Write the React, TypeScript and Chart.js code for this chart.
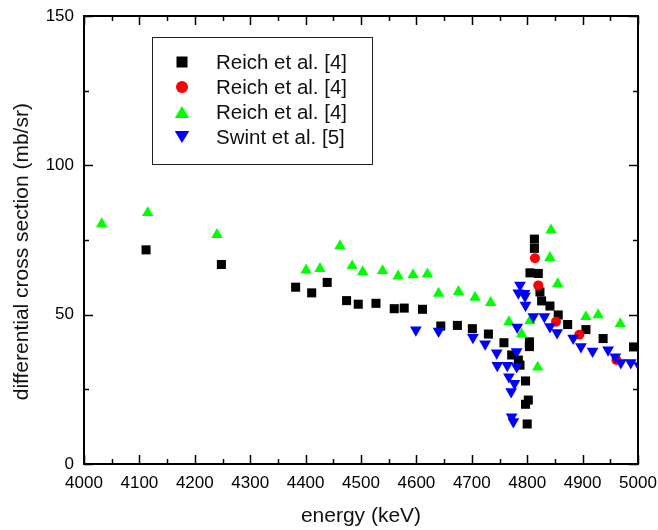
import React, { useEffect, useRef } from "react";
import { Chart, registerables } from "chart.js";

Chart.register(...registerables);

// ---- data ----
const reichSquareE = [4112, 4248, 4382, 4411, 4439, 4474, 4495, 4527, 4560, 4578, 4611, 4644, 4674, 4701, 4730, 4758, 4772, 4784, 4787, 4797, 4802, 4797, 4800, 4804, 4804, 4805, 4813, 4813, 4820, 4823, 4826, 4841, 4856, 4873, 4906, 4937, 4992];
const reichSquareV = [71.7, 66.8, 59.2, 57.3, 60.8, 54.7, 53.5, 53.8, 52.0, 52.2, 51.8, 46.2, 46.4, 45.3, 43.5, 40.6, 36.5, 34.8, 33.1, 27.8, 21.4, 20.0, 13.4, 40.9, 39.3, 64.0, 75.3, 72.2, 63.8, 57.6, 54.6, 52.9, 49.9, 46.7, 45.0, 42.0, 39.2];

const reichCircleE = [4814, 4820, 4852, 4894, 4961];
const reichCircleV = [68.9, 59.8, 47.6, 43.3, 34.8];

const reichTriE = [4032, 4115, 4240, 4401, 4426, 4462, 4484, 4503, 4539, 4567, 4594, 4620, 4640, 4676, 4706, 4734, 4767, 4790, 4805, 4819, 4841, 4843, 4855, 4906, 4928, 4968];
const reichTriV = [80.4, 84.1, 76.8, 64.9, 65.4, 73.0, 66.3, 64.3, 64.7, 62.9, 63.3, 63.6, 57.1, 57.7, 55.8, 54.0, 47.6, 43.5, 47.9, 32.4, 69.1, 78.3, 60.3, 49.3, 49.9, 46.9];

const swintE = [4599, 4640, 4702, 4724, 4745, 4746, 4764, 4767, 4771, 4772, 4775, 4777, 4781, 4781, 4782, 4784, 4787, 4795, 4796, 4797, 4811, 4831, 4841, 4854, 4883, 4897, 4918, 4946, 4959, 4969, 4987, 5002];
const swintV = [44.9, 44.5, 42.4, 40.2, 37.2, 33.0, 33.0, 29.2, 24.2, 15.8, 14.2, 27.0, 32.6, 37.6, 45.8, 57.3, 59.9, 57.1, 56.2, 53.2, 49.3, 49.3, 46.0, 44.0, 42.1, 39.3, 37.8, 38.2, 35.9, 33.9, 33.9, 32.9];

const seriesLabels = ["Reich et al. [4]", "Reich et al. [4]", "Reich et al. [4]", "Swint et al. [5]"];

const xMajorTicks = [4000, 4100, 4200, 4300, 4400, 4500, 4600, 4700, 4800, 4900, 5000];
const xMinorTicks = [4050, 4150, 4250, 4350, 4450, 4550, 4650, 4750, 4850, 4950];
const yMajorTicks = [0, 50, 100, 150];
const yMinorTicks = [25, 75, 125];

const xTitle = "energy (keV)";
const yTitle = "differential cross section (mb/sr)";

const FONT = "'Liberation Sans', Arial, Helvetica, sans-serif";

const toPts = (xs: number[], ys: number[]) => xs.map((x, i) => ({ x, y: ys[i] }));

const framePlugin = {
  id: "frameTicks",
  afterDatasetsDraw(chart: any) {
    const { ctx, chartArea, scales } = chart;
    const { left, right, top, bottom } = chartArea;
    const xs = scales.x;
    const ys = scales.y;
    ctx.save();
    ctx.strokeStyle = "#000";
    ctx.lineWidth = 1.5;
    ctx.beginPath();
    const major = 9;
    const minor = 5;
    xMajorTicks.forEach((v) => {
      const p = Math.round(xs.getPixelForValue(v)) + 0.5;
      ctx.moveTo(p, bottom); ctx.lineTo(p, bottom - major);
      ctx.moveTo(p, top); ctx.lineTo(p, top + major);
    });
    xMinorTicks.forEach((v) => {
      const p = Math.round(xs.getPixelForValue(v)) + 0.5;
      ctx.moveTo(p, bottom); ctx.lineTo(p, bottom - minor);
      ctx.moveTo(p, top); ctx.lineTo(p, top + minor);
    });
    yMajorTicks.forEach((v) => {
      const p = Math.round(ys.getPixelForValue(v)) + 0.5;
      ctx.moveTo(left, p); ctx.lineTo(left + major, p);
      ctx.moveTo(right, p); ctx.lineTo(right - major, p);
    });
    yMinorTicks.forEach((v) => {
      const p = Math.round(ys.getPixelForValue(v)) + 0.5;
      ctx.moveTo(left, p); ctx.lineTo(left + minor, p);
      ctx.moveTo(right, p); ctx.lineTo(right - minor, p);
    });
    ctx.stroke();
    ctx.lineWidth = 2;
    ctx.strokeRect(left, top, right - left, bottom - top);
    ctx.restore();
  },
};

const legendPlugin = {
  id: "insideLegend",
  afterDraw(chart: any) {
    const { ctx, chartArea } = chart;
    const bx = chartArea.left + 68;
    const by = chartArea.top + 21;
    const bw = 220;
    const bh = 127;
    ctx.save();
    ctx.fillStyle = "#fff";
    ctx.fillRect(bx, by, bw, bh);
    ctx.strokeStyle = "#222";
    ctx.lineWidth = 1;
    ctx.strokeRect(Math.round(bx) + 0.5, Math.round(by) + 0.5, bw, bh);
    const ds = chart.data.datasets;
    ds.forEach((d: any, i: number) => {
      const cy = by + 25 + i * 25;
      const cx = bx + 30;
      ctx.fillStyle = d.backgroundColor;
      ctx.beginPath();
      if (d.pointStyle === "rect") {
        ctx.rect(cx - 5.5, cy - 5.5, 11, 11);
      } else if (d.pointStyle === "circle") {
        ctx.arc(cx, cy, 6, 0, Math.PI * 2);
      } else if (d.pointStyle === "triangle") {
        const w = 14.5;
        const h = 12;
        if (d.pointRotation === 180) {
          ctx.moveTo(cx - w / 2, cy - h / 2);
          ctx.lineTo(cx + w / 2, cy - h / 2);
          ctx.lineTo(cx, cy + h / 2);
        } else {
          ctx.moveTo(cx, cy - h / 2);
          ctx.lineTo(cx + w / 2, cy + h / 2);
          ctx.lineTo(cx - w / 2, cy + h / 2);
        }
        ctx.closePath();
      }
      ctx.fill();
      ctx.fillStyle = "#111";
      ctx.font = `20.5px ${FONT}`;
      ctx.textBaseline = "middle";
      ctx.textAlign = "left";
      ctx.fillText(d.label, bx + 64, cy + 1);
    });
    ctx.restore();
  },
};

export default function App() {
  const canvasRef = useRef<HTMLCanvasElement | null>(null);

  useEffect(() => {
    if (!canvasRef.current) return;
    const chart = new Chart(canvasRef.current, {
      type: "scatter",
      data: {
        datasets: [
          {
            label: seriesLabels[0],
            data: toPts(reichSquareE, reichSquareV),
            pointStyle: "rect",
            pointRadius: 6.4,
            backgroundColor: "#000",
            borderColor: "#000",
            pointBorderWidth: 0,
            order: 4,
          } as any,
          {
            label: seriesLabels[1],
            data: toPts(reichCircleE, reichCircleV),
            pointStyle: "circle",
            pointRadius: 5,
            backgroundColor: "#ff0000",
            borderColor: "#ff0000",
            pointBorderWidth: 0,
            order: 3,
          },
          {
            label: seriesLabels[2],
            data: toPts(reichTriE, reichTriV),
            pointStyle: "triangle",
            pointRadius: 6.6,
            backgroundColor: "#00ff00",
            borderColor: "#00ff00",
            pointBorderWidth: 0,
            order: 2,
          },
          {
            label: seriesLabels[3],
            data: toPts(swintE, swintV),
            pointStyle: "triangle",
            pointRotation: 180,
            pointRadius: 6.8,
            backgroundColor: "#0000ff",
            borderColor: "#0000ff",
            pointBorderWidth: 0,
            order: 1,
          },
        ] as any,
      },
      options: {
        animation: false,
        responsive: false,
        maintainAspectRatio: false,
        events: [],
        layout: { padding: { left: 0, right: 20, top: 16, bottom: 0 } },
        plugins: {
          legend: { display: false },
          tooltip: { enabled: false },
        },
        datasets: { scatter: { clip: 0 } } as any,
        scales: {
          x: {
            type: "linear",
            min: 4000,
            max: 5000,
            afterBuildTicks: (s: any) => {
              s.ticks = xMajorTicks.map((v) => ({ value: v }));
            },
            afterFit: (s: any) => {
              s.height = 66;
              s.paddingLeft = 0;
              s.paddingRight = 0;
            },
            grid: { display: false, drawTicks: false },
            border: { display: false },
            ticks: {
              padding: 9,
              color: "#000",
              font: { size: 17, family: FONT },
              maxRotation: 0,
              autoSkip: false,
              callback: (v: any) => String(v),
            },
            title: {
              display: true,
              text: xTitle,
              color: "#111",
              font: { size: 21, family: FONT },
              padding: { top: 0, bottom: 1 },
            },
          },
          y: {
            type: "linear",
            min: 0,
            max: 150,
            afterBuildTicks: (s: any) => {
              s.ticks = yMajorTicks.map((v) => ({ value: v }));
            },
            afterFit: (s: any) => {
              s.width = 84;
              s.paddingTop = 0;
              s.paddingBottom = 0;
            },
            grid: { display: false, drawTicks: false },
            border: { display: false },
            ticks: {
              padding: 10,
              color: "#000",
              font: { size: 17, family: FONT },
              autoSkip: false,
              callback: (v: any) => String(v),
            },
            title: {
              display: true,
              text: yTitle + "    ",
              color: "#111",
              font: { size: 21, family: FONT },
              padding: { top: 10, bottom: 0 },
            },
          },
        },
      },
      plugins: [framePlugin, legendPlugin],
    });
    return () => chart.destroy();
  }, []);

  return (
    <canvas
      ref={canvasRef}
      width={658}
      height={530}
      style={{ position: "absolute", left: 0, top: 0, width: 658, height: 530 }}
    />
  );
}
